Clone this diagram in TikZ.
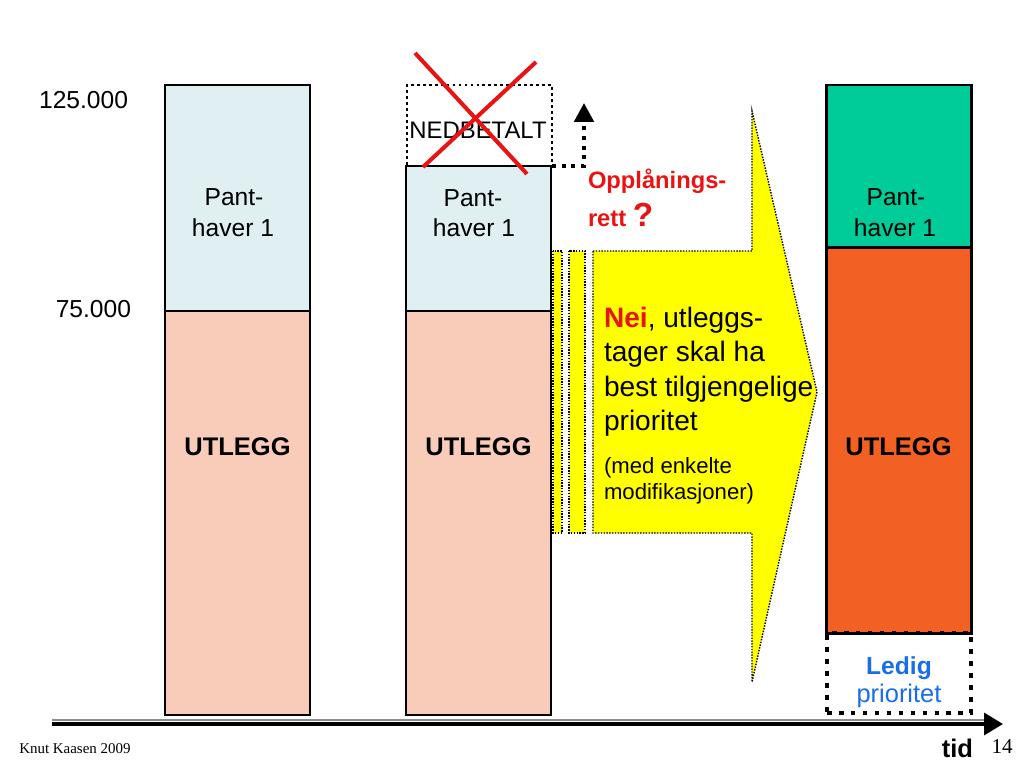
\documentclass[tikz,border=0pt]{standalone}
\usepackage{fontspec}
\setmainfont{Liberation Sans}
\newfontfamily\timesf{Liberation Serif}
\usetikzlibrary{arrows.meta,fit}
\definecolor{paleblue}{RGB}{224,240,242}
\definecolor{salmon}{RGB}{248,204,184}
\definecolor{tealc}{RGB}{0,204,153}
\definecolor{orangec}{RGB}{243,96,36}
\definecolor{yel}{RGB}{255,255,0}
\definecolor{redc}{RGB}{232,20,20}
\definecolor{bluec}{RGB}{25,110,232}
\tikzset{
  bar/.style={draw=black, line width=0.6pt, inner sep=0pt, outer sep=0pt},
  thickbar/.style={draw=black, line width=1.7pt, inner sep=0pt, outer sep=0pt},
  dotbox/.style={draw=black, line width=1.6pt, dash pattern=on 1.6pt off 1.8pt, inner sep=0pt, outer sep=0pt},
  ledbox/.style={draw=black, line width=2.6pt, dash pattern=on 2.6pt off 4.2pt, inner sep=0pt, outer sep=0pt},
  yelshape/.style={fill=yel, draw=black, line width=0.8pt, dash pattern=on 0.8pt off 0.8pt},
  txt/.style={inner sep=0pt, outer sep=0pt, font=\fontsize{14}{17}\selectfont},
  btxt/.style={inner sep=0pt, outer sep=0pt, font=\fontsize{14.5}{17}\selectfont\bfseries},
  bigtxt/.style={inner sep=0pt, outer sep=0pt, font=\fontsize{16}{19}\selectfont, anchor=base west},
  smalltxt/.style={inner sep=0pt, outer sep=0pt, font=\fontsize{12.6}{15}\selectfont, anchor=base west},
  redtxt/.style={inner sep=0pt, outer sep=0pt, font=\fontsize{13.5}{16}\selectfont\bfseries, text=redc, anchor=base west},
  crossline/.style={draw=redc, line width=2.3pt},
  dotarrow/.style={draw=black, line width=2.3pt, dash pattern=on 2.3pt off 3.2pt, -{Triangle[length=10.8pt,width=11pt]}},
}
\begin{document}
\begin{tikzpicture}[x=0.02cm,y=-0.02cm]
\useasboundingbox (0,0) rectangle (1024,768);

% value labels
\node[txt, anchor=base east] (v125) at (128,108) {125.000};
\node[txt, anchor=base east] (v75) at (131,317) {75.000};

% column 1
\node[bar, fill=paleblue, fit={(165,85)(310,311)}] (a1) {};
\node[bar, fill=salmon, fit={(165,311)(310,715)}] (a2) {};
\node[txt, anchor=base] (a1t1) at (234,205) {Pant-};
\node[txt, anchor=base] (a1t2) at (233,236) {haver 1};
\node[btxt, anchor=base] (a2t) at (237.5,455) {UTLEGG};

% column 2
\node[bar, fill=paleblue, fit={(406,166)(551,311)}] (b1) {};
\node[bar, fill=salmon, fit={(406,311)(551,715)}] (b2) {};
\node[dotbox, fit={(407,85)(552,166)}] (b0) {};
\node[inner sep=0pt, font=\fontsize{13.6}{16}\selectfont, anchor=base] (b0t) at (478,138) {NEDBETALT};
\node[txt, anchor=base] (b1t1) at (473,206) {Pant-};
\node[txt, anchor=base] (b1t2) at (474,236) {haver 1};
\node[btxt, anchor=base] (b2t) at (478.5,455) {UTLEGG};

% red cross
\coordinate (x1a) at (415,53);
\coordinate (x1b) at (527,174);
\coordinate (x2a) at (536,62);
\coordinate (x2b) at (423,167);
\draw[crossline] (x1a) -- (x1b);
\draw[crossline] (x2a) -- (x2b);

% dotted arrow up
\coordinate (uptip) at (584,103);
\draw[dotarrow] (b0.south east) -| (uptip);

% question text
\node[redtxt] (q1) at (588,188) {Opplånings-};
\node[redtxt] (q2) at (588,226) {rett {\fontsize{19}{20}\selectfont ?}};

% yellow arrow
\draw[yelshape] (553,251) rectangle (562,533);
\draw[yelshape] (569,251) rectangle (585,533);
\draw[yelshape] (593,251) -- (752,251) -- (752,111) -- (817,392) -- (752,682) -- (752,533) -- (593,533) -- cycle;
\node[bigtxt] (n1) at (604,327) {\textcolor{redc}{\bfseries Nei}, utleggs-};
\node[bigtxt] (n2) at (604,361) {tager skal ha};
\node[bigtxt] (n3) at (604,396) {best tilgjengelige};
\node[bigtxt] (n4) at (604,430) {prioritet};
\node[smalltxt] (n5) at (604,473) {(med enkelte};
\node[smalltxt] (n6) at (604,499) {modifikasjoner)};

% column 3
\node[thickbar, fill=tealc, fit={(826,85)(971,247)}] (c1) {};
\node[thickbar, fill=orangec, fit={(826,247)(971,633)}] (c2) {};
\node[ledbox, fit={(827,633)(971,713)}] (c3) {};
\node[txt, anchor=base] (c1t1) at (896,205) {Pant-};
\node[txt, anchor=base] (c1t2) at (895,236) {haver 1};
\node[btxt, anchor=base] (c2t) at (898.5,455) {UTLEGG};
\node[inner sep=0pt, font=\fontsize{14}{17}\selectfont\bfseries, text=bluec, anchor=base] (c3t1) at (899,674) {Ledig};
\node[inner sep=0pt, font=\fontsize{14.5}{17}\selectfont, text=bluec, anchor=base] (c3t2) at (899,702) {prioritet};

% time axis
\coordinate (ax0) at (52,724);
\coordinate (ax1) at (1003,724);
\coordinate (g0) at (52,720);
\coordinate (g1) at (985,720);
\draw[black!45, line width=0.8pt] (g0) -- (g1);
\draw[line width=2pt, -{Triangle[length=10.8pt,width=12.5pt]}] (ax0) -- (ax1);
\node[btxt, anchor=base east] (tid) at (973,757) {tid};
\node[inner sep=0pt, font=\fontsize{12}{14}\timesf, anchor=base east] (pg) at (1013,753) {14};
\node[inner sep=0pt, font=\fontsize{8.5}{10}\timesf, anchor=base west] (auth) at (19,753) {Knut Kaasen 2009};
\end{tikzpicture}
\end{document}
